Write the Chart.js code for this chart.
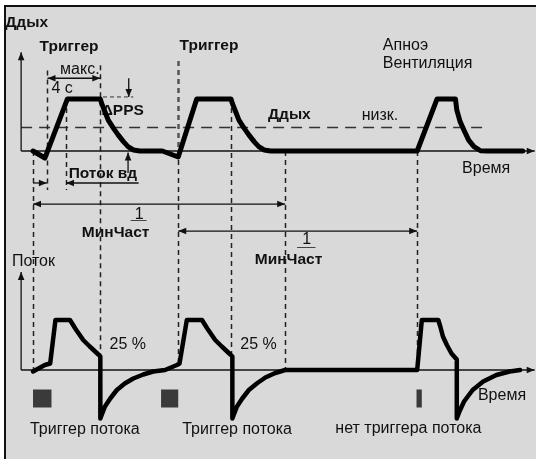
<!DOCTYPE html>
<html>
<head>
<meta charset="utf-8">
<script src="https://cdn.jsdelivr.net/npm/chart.js@4/dist/chart.umd.min.js"></script>
<style>
    html, body { margin: 0; padding: 0; background: #fff; overflow: hidden; }
    #frame {
        position: absolute; left: 4px; top: 5px;
        width: 530px; height: 452px;
        background: #d9d9d9;
        border-top: 2px solid #111;
        border-left: 2px solid #111;
    }
    #breathChart { position: absolute; left: 0; top: 0; }
</style>
</head>
<body>
<div id="frame"></div>
<canvas id="breathChart" width="536" height="459"></canvas>
<script>
// Pressure / flow timing diagram: flow trigger, min. rate, apnea breath

// time, s
const timeRange = [-1.6, 39.0];
// pressure panel (cmH2O) and flow panel (% of peak flow), both share the canvas height
const pressRange = [-118.5, 58.1];
const flowRange = [-178, 740];

// airway pressure trace
const pressTime = [0.9, 1.8, 3.5, 6.0, 6.1, 6.35, 6.6, 7.0, 7.35, 7.75, 8.1, 8.5, 9.0,
    10.7, 11.9, 13.3, 15.9, 16.0, 16.25, 16.5, 16.9, 17.25, 17.65, 18.0, 18.4, 18.9,
    30.0, 31.5, 32.9, 33.0, 33.25, 33.6, 33.9, 34.3, 34.8, 35.3, 38.0];
const pressVal = [0, -2.7, 20, 20, 18.3, 15.1, 11.9, 8.7, 6.2, 3.6, 1.7, 0.4, 0,
    0, -2.3, 20, 20, 18.3, 15.1, 11.9, 8.7, 6.2, 3.6, 1.7, 0.4, 0,
    0, 20, 20, 15.8, 11.3, 7.4, 4.2, 1.7, 0.1, 0, 0];

// flow trace
const flowTime = [0.9, 1.8, 2.2, 2.6, 3.7, 4.1, 4.7, 5.2, 5.85, 6.0, 6.0,
    6.1, 6.35, 6.75, 7.25, 7.85, 8.5, 9.25, 10.0, 10.9,
    11.8, 12.0, 12.55, 13.7, 14.1, 14.7, 15.2, 15.85, 16.0, 16.0,
    16.1, 16.35, 16.75, 17.25, 17.85, 18.5, 19.25, 20.0,
    30.0, 30.35, 31.6, 31.75, 31.95, 32.25, 32.6, 33.0, 33.0,
    33.2, 33.55, 34.2, 35.0, 36.0, 37.0, 37.8];
const flowVal = [-3, 10, 13, 100, 100, 83, 60, 47, 31, 27, -97,
    -90, -73, -57, -40, -27, -17, -9, -3, 0,
    10, 13, 100, 100, 83, 60, 47, 31, 27, -97,
    -90, -73, -57, -40, -27, -15, -6, 0,
    0, 100, 100, 87, 67, 50, 33, 21, -97,
    -83, -63, -40, -23, -10, -3, 0];

// thresholds
const lowPressure = 9;
const ppsLevel = 20.8;

// dashed event lines crossing both panels: time, top (pressure), bottom (flow)
const eventTime = [0.9, 6.0, 11.9, 15.9, 20.0, 30.0];
const eventTop = [0, 33, 34.6, 20, 0, 0];
const eventBottom = [0, 27, 10, 27, 0, 0];

// dashed lines in the pressure panel only
const markTime = [1.95, 3.4];
const markTop = [31, 20];
const markBottom = [-15, -15];

// trigger markers under the flow axis: start, end (s)
const trigStart = [0.9, 10.6, 29.95];
const trigEnd = [2.3, 11.9, 30.35];

// arrows: t1, v1, t2, v2, axis, heads
const arrows = [
    [0, 0, 0, 38, 'yP', 'end'],
    [0, 0, 38.9, 0, 'yP', 'end'],
    [0, 0, 0, 196, 'yF', 'end'],
    [0, 0, 38.9, 0, 'yF', 'end'],
    [2.0, 28, 6.0, 28, 'yP', 'both'],
    [8.15, 28, 8.15, ppsLevel, 'yP', 'end'],
    [8.1, -8.5, 8.1, -0.6, 'yP', 'end'],
    [0.9, -12.3, 1.95, -12.3, 'yP', 'end'],
    [8.9, -12.3, 3.4, -12.3, 'yP', 'end'],
    [0.9, -20.4, 20.0, -20.4, 'yP', 'both'],
    [11.9, -30.8, 30.0, -30.8, 'yP', 'both']
];

// fraction bars for 1/МинЧаст
const fractionBars = [[8.3, 9.5, -26.5], [20.9, 22.3, -36.9]];

// captions: text, t, value, axis, bold
const notes = [
    ['Ддых', -1.2, 49.2, 'yP', true],
    ['Триггер', 1.4, 40, 'yP', true],
    ['Триггер', 12.0, 40.4, 'yP', true],
    ['макс.', 2.95, 31.2, 'yP', false],
    ['4 с', 2.3, 24.2, 'yP', false],
    ['ΔPPS', 6.1, 15.4, 'yP', true],
    ['Ддых', 18.7, 13.8, 'yP', true],
    ['низк.', 25.8, 13.8, 'yP', false],
    ['Апноэ', 27.4, 40.4, 'yP', false],
    ['Вентиляция', 27.4, 33.8, 'yP', false],
    ['Время', 33.4, -6.9, 'yP', false],
    ['Поток вд', 3.6, -8.8, 'yP', true],
    ['1', 8.6, -24.6, 'yP', false],
    ['МинЧаст', 4.6, -31.5, 'yP', true],
    ['1', 21.3, -34.2, 'yP', false],
    ['МинЧаст', 17.7, -41.9, 'yP', true],
    ['Поток', -0.7, 216, 'yF', false],
    ['25 %', 6.7, 50, 'yF', false],
    ['25 %', 16.6, 50, 'yF', false],
    ['Триггер потока', 0.67, -120, 'yF', false],
    ['Триггер потока', 12.2, -120, 'yF', false],
    ['нет триггера потока', 23.8, -118, 'yF', false],
    ['Время', 34.6, -52, 'yF', false]
];

const FONT = '"Liberation Sans", Arial, sans-serif';

function zip(xs, ys) {
    return xs.map((x, i) => ({ x: x, y: ys[i] }));
}

function head(c, x, y, angle) {
    const L = 8, W = 3.3;
    c.save();
    c.translate(x, y);
    c.rotate(angle);
    c.beginPath();
    c.moveTo(0, 0);
    c.lineTo(-L, -W);
    c.lineTo(-L, W);
    c.closePath();
    c.fill();
    c.restore();
}

function vline(c, x, y1, y2) {
    c.beginPath();
    c.moveTo(x, y1);
    c.lineTo(x, y2);
    c.stroke();
}

function hline(c, x1, x2, y) {
    c.beginPath();
    c.moveTo(x1, y);
    c.lineTo(x2, y);
    c.stroke();
}

// captions, guides, arrows and markers
const diagramExtras = {
    id: 'diagramExtras',
    beforeDatasetsDraw(chart) {
        const c = chart.ctx;
        const sx = chart.scales.x, sp = chart.scales.yP, sf = chart.scales.yF;
        const X = t => sx.getPixelForValue(t);

        c.save();
        c.fillStyle = '#111';
        c.textBaseline = 'middle';
        c.textAlign = 'left';
        notes.forEach(([txt, t, v, ax, bold]) => {
            c.font = bold ? 'bold 15.5px ' + FONT : '16px ' + FONT;
            c.fillText(txt, X(t), chart.scales[ax].getPixelForValue(v));
        });

        // low pressure threshold
        c.strokeStyle = '#333';
        c.lineWidth = 1.5;
        c.setLineDash([11, 7]);
        hline(c, X(0), X(35.4), sp.getPixelForValue(lowPressure));

        // PPS level
        c.lineWidth = 1;
        c.setLineDash([4, 3]);
        hline(c, X(6.2), X(8.5), sp.getPixelForValue(ppsLevel));

        // event lines
        c.strokeStyle = '#222';
        c.lineWidth = 1.5;
        c.setLineDash([5, 4]);
        eventTime.forEach((t, i) => {
            const x = Math.round(X(t)) + 0.5;
            const yTop = sp.getPixelForValue(eventTop[i]);
            const yBase = sp.getPixelForValue(0);
            if (i === 2) {
                c.save();
                c.strokeStyle = '#555';
                c.lineWidth = 2.5;
                vline(c, x, yTop, yBase);
                c.restore();
                vline(c, x, yBase, sf.getPixelForValue(eventBottom[i]));
            } else {
                vline(c, x, yTop, sf.getPixelForValue(eventBottom[i]));
            }
        });
        markTime.forEach((t, i) => {
            const x = Math.round(X(t)) + 0.5;
            vline(c, x, sp.getPixelForValue(markTop[i]), sp.getPixelForValue(markBottom[i]));
        });
        c.setLineDash([]);

        // fraction bars
        c.strokeStyle = '#444';
        c.lineWidth = 1;
        fractionBars.forEach(([t1, t2, v]) => {
            hline(c, X(t1), X(t2), Math.round(sp.getPixelForValue(v)) + 0.5);
        });

        // arrows
        c.strokeStyle = '#111';
        c.fillStyle = '#111';
        c.lineWidth = 1.3;
        arrows.forEach(([t1, v1, t2, v2, ax, heads]) => {
            const s = chart.scales[ax];
            const x1 = X(t1), y1 = s.getPixelForValue(v1);
            const x2 = X(t2), y2 = s.getPixelForValue(v2);
            c.beginPath();
            c.moveTo(x1, y1);
            c.lineTo(x2, y2);
            c.stroke();
            const a = Math.atan2(y2 - y1, x2 - x1);
            head(c, x2, y2, a);
            if (heads === 'both') head(c, x1, y1, a + Math.PI);
        });

        // trigger markers
        c.fillStyle = '#3a3a3a';
        trigStart.forEach((t, i) => {
            const x1 = X(t), x2 = X(trigEnd[i]);
            const y1 = sf.getPixelForValue(-39), y2 = sf.getPixelForValue(-75);
            c.fillRect(x1, y1, x2 - x1, y2 - y1);
        });
        c.restore();
    }
};

const ctx = document.getElementById('breathChart');
new Chart(ctx, {
    type: 'line',
    data: {
        datasets: [
            {
                label: 'Ддых',
                data: zip(pressTime, pressVal),
                yAxisID: 'yP',
                borderColor: '#000',
                borderWidth: 5,
                borderJoinStyle: 'round',
                borderCapStyle: 'round',
                pointRadius: 0,
                tension: 0
            },
            {
                label: 'Поток',
                data: zip(flowTime, flowVal),
                yAxisID: 'yF',
                borderColor: '#000',
                borderWidth: 4.5,
                borderJoinStyle: 'round',
                borderCapStyle: 'round',
                pointRadius: 0,
                tension: 0
            }
        ]
    },
    options: {
        responsive: false,
        animation: false,
        layout: { padding: 0 },
        plugins: {
            legend: { display: false },
            tooltip: { enabled: false }
        },
        scales: {
            x: { type: 'linear', min: timeRange[0], max: timeRange[1], display: false },
            yP: { type: 'linear', min: pressRange[0], max: pressRange[1], display: false },
            yF: { type: 'linear', min: flowRange[0], max: flowRange[1], display: false }
        }
    },
    plugins: [diagramExtras]
});
</script>
</body>
</html>
